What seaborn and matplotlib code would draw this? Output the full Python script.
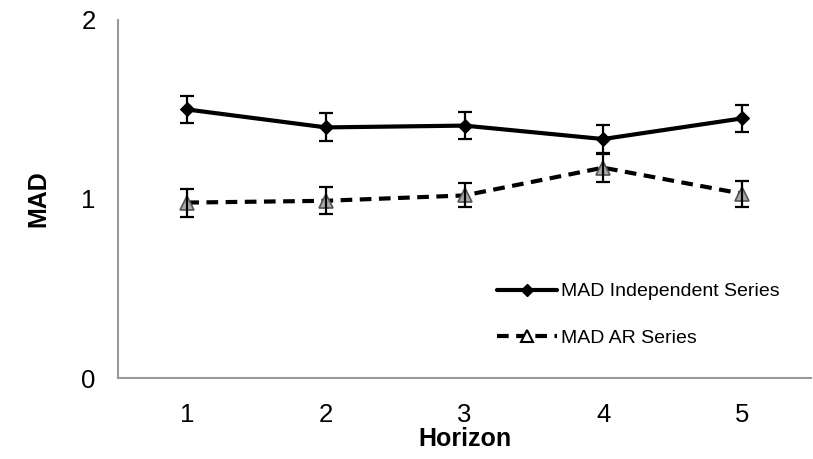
import matplotlib
matplotlib.use("Agg")
import matplotlib.pyplot as plt
import seaborn as sns
import pandas as pd
import numpy as np
from matplotlib.lines import Line2D

horizons = ["1", "2", "3", "4", "5"]
mad_independent = [1.50, 1.40, 1.41, 1.335, 1.45]
err_independent = [0.078, 0.078, 0.075, 0.076, 0.074]
mad_ar = [0.98, 0.99, 1.02, 1.175, 1.03]
err_ar = [0.078, 0.075, 0.067, 0.078, 0.073]
series_names = ["MAD Independent Series", "MAD AR Series"]

sns.set_style("white")
plt.rcParams['font.family'] = ['Liberation Sans', 'DejaVu Sans']
plt.rcParams['text.color'] = 'black'
plt.rcParams['axes.labelcolor'] = 'black'
plt.rcParams['xtick.labelcolor'] = 'black'
plt.rcParams['ytick.labelcolor'] = 'black'

fig = plt.figure(figsize=(8.13, 4.59), dpi=100)
ax = fig.add_axes([118/813, (459-378)/459, (811-118)/813, (378-20)/459])

xpos = np.arange(len(horizons))
df = pd.DataFrame({
    "x": np.concatenate([xpos, xpos]),
    "MAD": mad_independent + mad_ar,
    "series": [series_names[0]] * 5 + [series_names[1]] * 5,
})

sns.lineplot(data=df, x="x", y="MAD", hue="series", style="series",
             palette=["black", "black"], markers=["D", "^"],
             dashes=[(None, None), (2.8, 1.8)], linewidth=3,
             ax=ax, legend=False)

lines = ax.get_lines()
lines[0].set_linestyle("-")
lines[0].set_marker("D")
lines[0].set_markersize(7)
lines[0].set_markerfacecolor("black")
lines[0].set_markeredgecolor("black")
lines[1].set_linestyle((0, (2.8, 1.8)))
lines[1].set_marker("^")
lines[1].set_markersize(10)
lines[1].set_markerfacecolor("#aaaaaa")
lines[1].set_markeredgecolor("#555555")
lines[1].set_markeredgewidth(1.2)

ax.errorbar(xpos, mad_independent, yerr=err_independent, fmt="none",
            ecolor="black", elinewidth=1.6, capsize=5, capthick=1.6, zorder=5)
ax.errorbar(xpos, mad_ar, yerr=err_ar, fmt="none",
            ecolor="black", elinewidth=1.6, capsize=5, capthick=1.6, zorder=5)

ax.set_xlim(-0.5, 4.5)
ax.set_ylim(0, 2)
ax.set_yticks([0, 1, 2])
ax.set_yticklabels(["0", "1", "2"])
ax.set_xticks(xpos)
ax.set_xticklabels(horizons)
ax.set_xticks(np.arange(-0.5, 5, 1), minor=True)
ax.tick_params(axis="x", which="major", length=0, pad=18, labelsize=18.5, labelcolor="black")
ax.tick_params(axis="x", which="minor", length=6, color="#999999", width=1.5, direction="out")
ax.tick_params(axis="y", which="major", length=6, color="#999999", width=1.5,
               direction="out", labelsize=18.5, pad=10, labelcolor="black")

for s in ["top", "right"]:
    ax.spines[s].set_visible(False)
for s in ["left", "bottom"]:
    ax.spines[s].set_color("#999999")
    ax.spines[s].set_linewidth(1.5)

ax.set_xlabel("Horizon", fontsize=18, fontweight="bold", labelpad=0, color="black")
ax.set_ylabel("MAD", fontsize=18, fontweight="bold", labelpad=22, color="black")

h1 = Line2D([], [], color="black", lw=3, marker="D", markersize=6)
h2 = Line2D([], [], color="black", lw=3, linestyle=(0, (2.8, 1.8)), marker="^",
            markersize=8, markerfacecolor="white", markeredgecolor="black", markeredgewidth=1.5)
ax.legend([h1, h2], series_names, loc="center left",
          bbox_to_anchor=((497-118)/693 - 0.025, (378-315)/358),
          frameon=False, fontsize=14, handlelength=3.1, handletextpad=0.2,
          labelspacing=1.5, labelcolor="black")

fig.savefig("out.png", dpi=100)
